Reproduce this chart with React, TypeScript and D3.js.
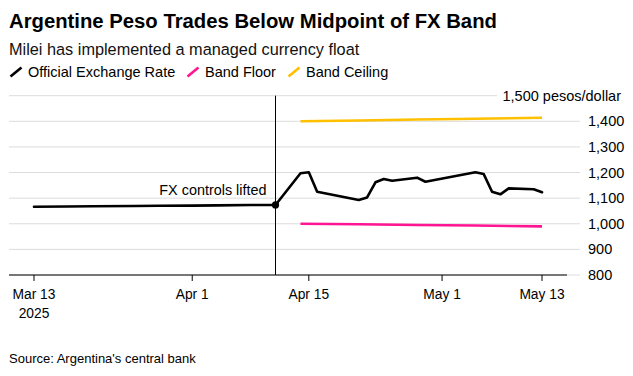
import React from "react";
import * as d3 from "d3";

const rateDates = [
  "2025-03-13", "2025-03-17", "2025-03-20", "2025-03-25", "2025-03-28", "2025-04-01",
  "2025-04-04", "2025-04-08", "2025-04-11",
  "2025-04-14", "2025-04-15", "2025-04-16", "2025-04-21", "2025-04-22", "2025-04-23",
  "2025-04-24", "2025-04-25", "2025-04-28", "2025-04-29", "2025-05-05", "2025-05-06",
  "2025-05-07", "2025-05-08", "2025-05-09", "2025-05-12", "2025-05-13",
];
const rateValues = [
  1066.5, 1067.5, 1068.5, 1069.5, 1070.5, 1071,
  1072, 1073, 1073.5,
  1197, 1201, 1125, 1093, 1103, 1162,
  1175, 1168, 1180, 1164, 1201, 1194,
  1125, 1115, 1138, 1135, 1123,
];

const bandDates = ["2025-04-14", "2025-04-21", "2025-04-28", "2025-05-05", "2025-05-13"];
const floorValues = [1000, 998, 995, 993, 990];
const ceilingValues = [1400, 1403, 1407, 1410, 1414];

const xTickDates = ["2025-03-13", "2025-04-01", "2025-04-15", "2025-05-01", "2025-05-13"];
const xTickLabels = ["Mar 13", "Apr 1", "Apr 15", "May 1", "May 13"];
const yTicks = [800, 900, 1000, 1100, 1200, 1300, 1400, 1500];

const eventDate = "2025-04-11";
const eventLabel = "FX controls lifted";

const title = "Argentine Peso Trades Below Midpoint of FX Band";
const subtitle = "Milei has implemented a managed currency float";
const legendItems = [
  { label: "Official Exchange Rate", color: "#000000" },
  { label: "Band Floor", color: "#ff1493" },
  { label: "Band Ceiling", color: "#ffc000" },
];
const source = "Source: Argentina's central bank";

const FONT = "'Liberation Sans', Arial, Helvetica, sans-serif";

export default function App() {
  const parse = d3.utcParse("%Y-%m-%d");
  const x = d3
    .scaleUtc()
    .domain([parse("2025-03-10")!, parse("2025-05-16")!])
    .range([9, 567]);
  const y = d3.scaleLinear().domain([800, 1500]).range([275, 95.7]);

  const line = d3
    .line<[Date, number]>()
    .x((d) => x(d[0]))
    .y((d) => y(d[1]));

  const rateData: [Date, number][] = rateDates.map((d, i) => [parse(d)!, rateValues[i]]);
  const floorData: [Date, number][] = bandDates.map((d, i) => [parse(d)!, floorValues[i]]);
  const ceilData: [Date, number][] = bandDates.map((d, i) => [parse(d)!, ceilingValues[i]]);

  const ex = x(parse(eventDate)!);
  const eventIdx = rateDates.indexOf(eventDate);
  const ey = y(rateValues[eventIdx]);

  const fmt = d3.format(",");

  const legendX = [9, 186, 287];

  return (
    <svg
      width={633}
      height={376}
      style={{ position: "absolute", left: 0, top: 0, background: "#fff" }}
      fontFamily={FONT}
    >
      <rect width={633} height={376} fill="#fff" />
      <text x={9} y={28.3} fontSize={20.3} fontWeight="bold" fill="#000">
        {title}
      </text>
      <text x={9} y={55} fontSize={16.3} fill="#111">
        {subtitle}
      </text>
      {legendItems.map((it, i) => (
        <g key={it.label} transform={`translate(${legendX[i]},0)`}>
          <line x1={1.5} y1={76.5} x2={12.5} y2={67.5} stroke={it.color} strokeWidth={2.6} />
          <text x={19} y={77.3} fontSize={14.5} fill="#000">
            {it.label}
          </text>
        </g>
      ))}

      {/* gridlines */}
      {yTicks.map((t) => (
        <line
          key={t}
          x1={9}
          x2={t === 1500 ? 497 : 580}
          y1={y(t)}
          y2={y(t)}
          stroke="#dcdcdc"
          strokeWidth={1}
        />
      ))}
      {/* y labels */}
      {yTicks.map((t) =>
        t === 1500 ? (
          <text key={t} x={621} y={y(t) + 5} fontSize={14.5} textAnchor="end" fill="#000">
            {fmt(t) + " pesos/dollar"}
          </text>
        ) : (
          <text key={t} x={588} y={y(t) + 5} fontSize={14.5} fill="#000">
            {fmt(t)}
          </text>
        )
      )}

      {/* x axis */}
      <line x1={9} x2={567} y1={275} y2={275} stroke="#000" strokeWidth={1} />
      {xTickDates.map((d, i) => {
        const xx = x(parse(d)!);
        return (
          <g key={d}>
            <line x1={xx} x2={xx} y1={275} y2={281} stroke="#000" strokeWidth={1} />
            <text x={xx} y={299.3} fontSize={13.8} textAnchor="middle" fill="#000">
              {xTickLabels[i]}
            </text>
            {i === 0 && (
              <text x={xx} y={317.7} fontSize={13.8} textAnchor="middle" fill="#000">
                2025
              </text>
            )}
          </g>
        );
      })}

      {/* event line */}
      <line x1={ex} x2={ex} y1={95.7} y2={275} stroke="#000" strokeWidth={1} />
      <text x={ex - 9} y={195} fontSize={14.4} textAnchor="end" fill="#000">
        {eventLabel}
      </text>

      {/* series */}
      <path d={line(ceilData)!} fill="none" stroke="#ffc000" strokeWidth={2.6} />
      <path d={line(floorData)!} fill="none" stroke="#ff1493" strokeWidth={2.6} />
      <path
        d={line(rateData)!}
        fill="none"
        stroke="#000"
        strokeWidth={2.6}
        strokeLinejoin="round"
        strokeLinecap="round"
      />
      <circle cx={ex} cy={ey} r={3.6} fill="#000" />

      <text x={9} y={362.7} fontSize={13} fill="#000">
        {source}
      </text>
    </svg>
  );
}
